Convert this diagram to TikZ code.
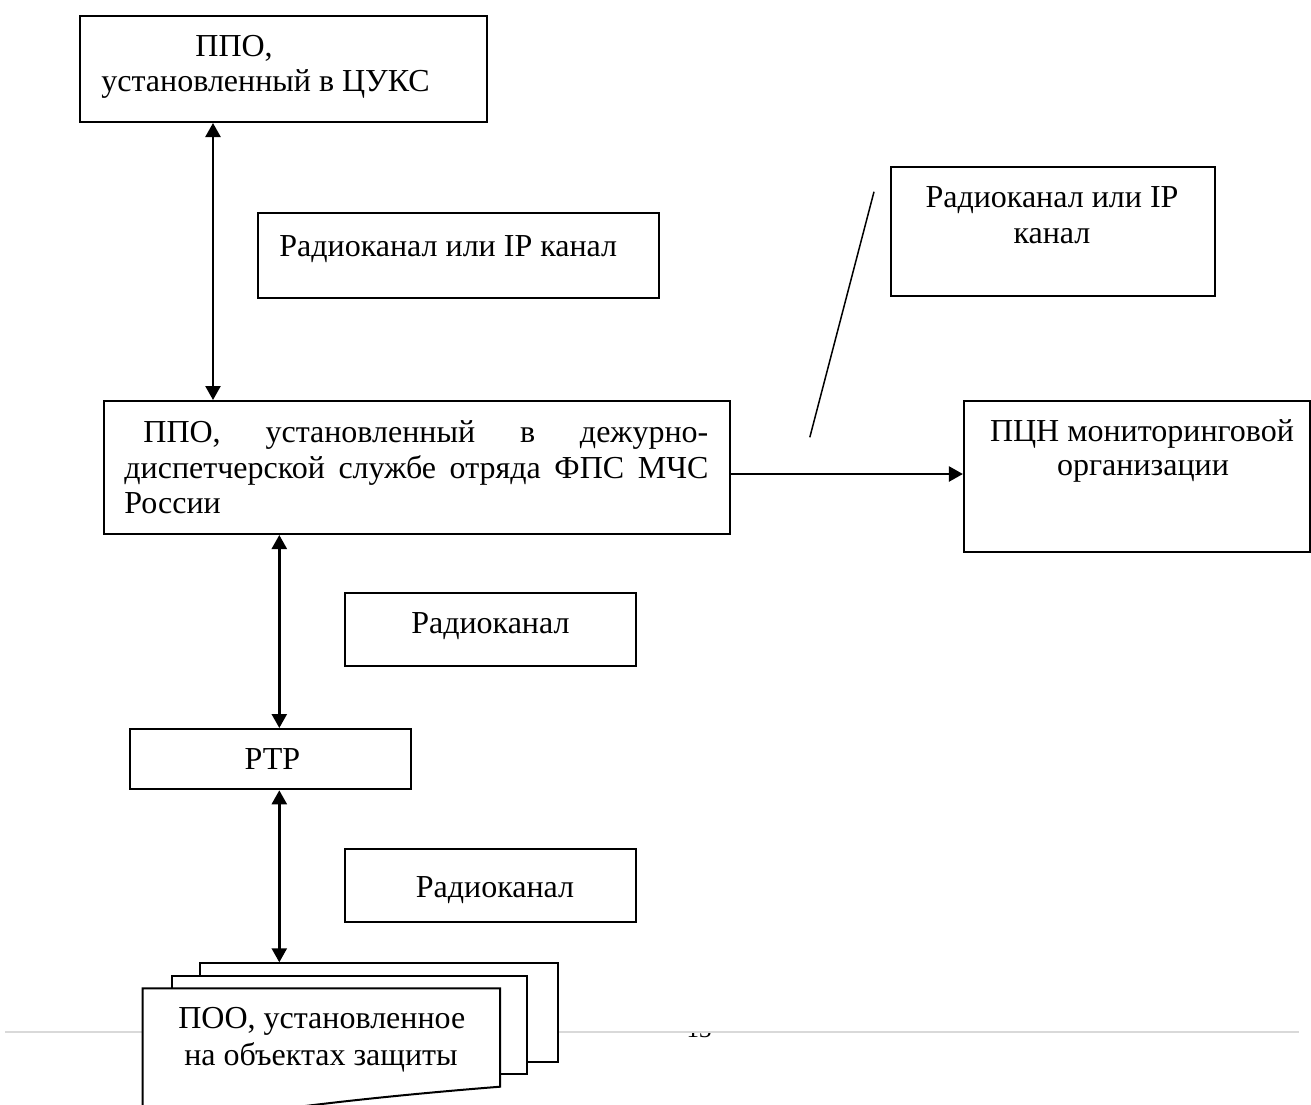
\documentclass[tikz,border=0pt]{standalone}
\usepackage{fontspec}
\setmainfont{Liberation Serif}
\usetikzlibrary{arrows.meta,fit}
\tikzset{
  box/.style={draw=black, line width=1pt, fill=white, inner sep=0pt},
  txt/.style={inner sep=0pt, anchor=base, font=\fontsize{16pt}{19pt}\selectfont},
  txtw/.style={txt, anchor=base west},
  arr/.style={line width=1.2pt, {Triangle[length=7pt,width=7.5pt]}-{Triangle[length=7pt,width=7.5pt]}},
  arrone/.style={line width=1.2pt, -{Triangle[length=7pt,width=7.5pt]}},
  thin line/.style={line width=0.75pt},
  sep line/.style={draw=black!15, line width=1.1pt}
}
\begin{document}
\begin{tikzpicture}[x=0.5pt, y=-0.5pt]
\clip (0,0) rectangle (1311,1104);
\fill[white] (0,0) rectangle (1311,1104);

% page separator and clipped page number
\coordinate (sepL) at (5,1032);
\coordinate (sepR) at (1299,1032);
\draw[sep line] (sepL) -- (sepR);
\begin{scope}
  \clip (675,1033.5) rectangle (725,1041);
  \node[inner sep=0pt, anchor=base, font=\fontsize{12.5pt}{14pt}\selectfont] (pg) at (699,1037.5) {13};
\end{scope}

% boxes
\node[box, fit={(80,16) (487,122)}] (cuks) {};
\node[box, fit={(258,213) (659,298)}] (lab1) {};
\node[box, fit={(104,401) (730,534)}] (mid) {};
\node[box, fit={(890.7,167.3) (1214.5,295.7)}] (lab4) {};
\node[box, fit={(963.9,400.7) (1310,551.7)}] (pcn) {};
\node[box, fit={(344.6,592.7) (635.5,666)}] (lab2) {};
\node[box, fit={(130.3,729) (411,789.3)}] (rtr) {};
\node[box, fit={(344.6,849) (635.5,921.7)}] (lab3) {};

% stacked documents
\node[box, fit={(199.5,963.3) (558,1061.7)}] (poo3) {};
\node[box, fit={(171.7,976) (527,1074)}] (poo2) {};
\draw[box] (142.7,988.3) -- (500,988.3) -- (500,1086.7)
  .. controls (420,1093) and (330,1102) .. (260,1112)
  .. controls (210,1119) and (170,1120) .. (142.7,1114) -- cycle;

% texts
\node[txtw] (t1a) at (195,56) {ППО,};
\node[txtw] (t1b) at (101,91) {установленный в ЦУКС};
\node[txtw] (t2) at (279,256) {Радиоканал или IP канал};
\node[txtw] (t3a) at (143,442) {\makebox[282.5pt][s]{ППО, установленный в дежурно-}};
\node[txtw] (t3b) at (124,478) {\makebox[292pt][s]{диспетчерской службе отряда ФПС МЧС}};
\node[txtw] (t3c) at (124,513.5) {России};
\node[txt] (t4a) at (1052,207.7) {Радиоканал или IP};
\node[txt] (t4b) at (1052,243.3) {канал};
\node[txt] (t5a) at (1142,441.7) {ПЦН мониторинговой};
\node[txt] (t5b) at (1143,475) {организации};
\node[txt] (t6) at (490.4,633.3) {Радиоканал};
\node[txt] (t7) at (272.4,769) {РТР};
\node[txt] (t8) at (495,897) {Радиоканал};
\node[txt] (t9a) at (321.8,1028.3) {ПОО, установленное};
\node[txt] (t9b) at (321,1065) {на объектах защиты};

% connectors
\coordinate (xa) at (213,0);
\coordinate (xb) at (279.3,0);
\coordinate (yh) at (0,474);
\draw[arr] (cuks.south -| xa) -- (mid.north -| xa);
\draw[arr] (mid.south -| xb) -- (rtr.north -| xb);
\draw[arr] (rtr.south -| xb) -- (poo3.north -| xb);
\draw[arrone] (mid.east |- yh) -- (pcn.west |- yh);
\coordinate (slA) at (874,191.7);
\coordinate (slB) at (809.8,437.3);
\draw[thin line] (slA) -- (slB);
\end{tikzpicture}
\end{document}
